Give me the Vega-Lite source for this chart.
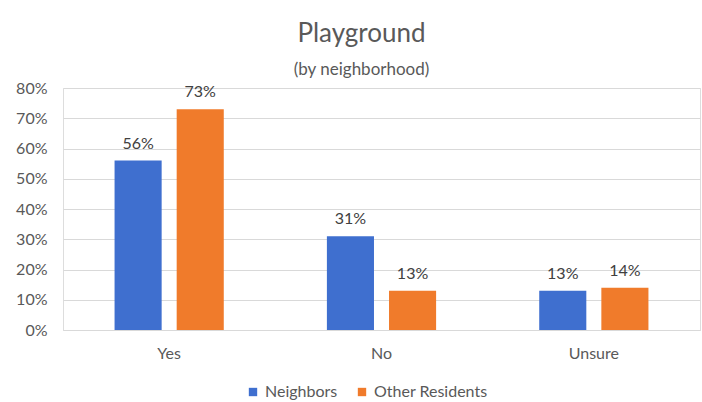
{
  "$schema": "https://vega.github.io/schema/vega-lite/v6.json",
  "autosize": "none",
  "padding": {"left": 63, "top": 88, "right": 2, "bottom": 72},
  "width": 637,
  "height": 242,
  "background": "white",
  "title": {
    "text": "Playground",
    "subtitle": "(by neighborhood)",
    "anchor": "middle",
    "dx": -20,
    "offset": 2,
    "font": "Lato",
    "fontSize": 26,
    "fontWeight": "normal",
    "color": "#595959",
    "subtitleFont": "Lato",
    "subtitleFontSize": 17,
    "subtitleColor": "#595959",
    "subtitlePadding": 15
  },
  "data": {
    "values": [
      {"answer": "Yes", "group": "Neighbors", "value": 0.56},
      {"answer": "Yes", "group": "Other Residents", "value": 0.73},
      {"answer": "No", "group": "Neighbors", "value": 0.31},
      {"answer": "No", "group": "Other Residents", "value": 0.13},
      {"answer": "Unsure", "group": "Neighbors", "value": 0.13},
      {"answer": "Unsure", "group": "Other Residents", "value": 0.14}
    ]
  },
  "encoding": {
    "x": {
      "field": "answer",
      "type": "nominal",
      "sort": ["Yes", "No", "Unsure"],
      "scale": {"paddingInner": 0, "paddingOuter": 0},
      "axis": {
        "title": null,
        "labelAngle": 0,
        "labelFont": "Lato",
        "labelFontSize": 16,
        "labelColor": "#595959",
        "labelPadding": 15,
        "ticks": false,
        "domainColor": "#d9d9d9",
        "grid": false
      }
    },
    "xOffset": {
      "field": "group",
      "type": "nominal",
      "scale": {"paddingInner": 0.242, "paddingOuter": 0.83}
    },
    "y": {
      "field": "value",
      "type": "quantitative",
      "scale": {"domain": [0, 0.8]},
      "axis": {
        "title": null,
        "values": [0, 0.1, 0.2, 0.3, 0.4, 0.5, 0.6, 0.7, 0.8],
        "format": ".0%",
        "labelFont": "Lato",
        "labelFontSize": 16,
        "labelColor": "#595959",
        "labelPadding": 16,
        "ticks": false,
        "domain": false,
        "gridColor": "#d9d9d9"
      }
    }
  },
  "layer": [
    {
      "mark": {"type": "bar"},
      "encoding": {
        "color": {
          "field": "group",
          "type": "nominal",
          "scale": {"domain": ["Neighbors", "Other Residents"], "range": ["#3F6FCF", "#F07B2B"]},
          "legend": {
            "title": null,
            "orient": "none",
            "legendX": 182,
            "legendY": 296,
            "direction": "horizontal",
            "symbolType": "square",
            "symbolSize": 70,
            "labelFont": "Lato",
            "labelFontSize": 16,
            "labelColor": "#595959",
            "columnPadding": 16
          }
        }
      }
    },
    {
      "mark": {"type": "text", "baseline": "bottom", "dy": -9, "font": "Lato", "fontSize": 16, "color": "#404040"},
      "encoding": {
        "text": {"field": "value", "type": "quantitative", "format": ".0%"}
      }
    }
  ]
}
